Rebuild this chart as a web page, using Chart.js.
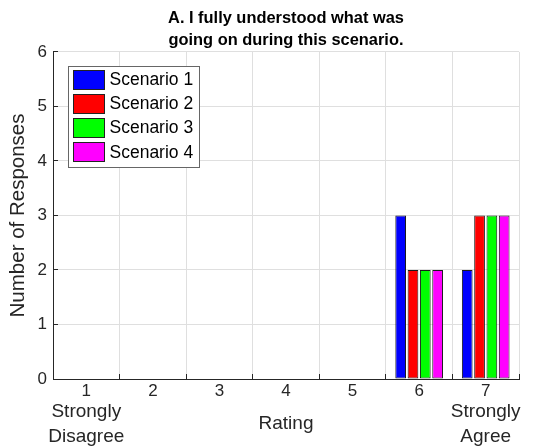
<!DOCTYPE html>
<html><head><meta charset="utf-8">
<script src="https://cdn.jsdelivr.net/npm/chart.js@4/dist/chart.umd.min.js"></script>
<style>html,body{margin:0;padding:0;background:#fff}#wrap{width:544px;height:446px}</style>
</head><body><div id="wrap"><canvas id="c" width="544" height="446"></canvas></div>
<script>
// ---- data ----
const categories = ['1', '2', '3', '4', '5', '6', '7'];
const categoryNotes = [['Strongly', 'Disagree'], '', '', '', '', '', ['Strongly', 'Agree']];
const seriesNames = ['Scenario 1', 'Scenario 2', 'Scenario 3', 'Scenario 4'];
const scenario1 = [0, 0, 0, 0, 0, 3, 2];
const scenario2 = [0, 0, 0, 0, 0, 2, 3];
const scenario3 = [0, 0, 0, 0, 0, 2, 3];
const scenario4 = [0, 0, 0, 0, 0, 2, 3];
const seriesColors = ['#0000ff', '#ff0000', '#00ff00', '#ff00ff'];
const yMin = 0, yMax = 6, yStep = 1;
const titleLines = ['A. I fully understood what was', 'going on during this scenario.'];
const xTitle = 'Rating';
const yTitle = 'Number of Responses';

const FONT = "'Liberation Sans', Arial, Helvetica, sans-serif";
Chart.defaults.font.family = FONT;
const AXIS = '#262626';
const GRID = '#dfdfdf';

const seriesValues = [scenario1, scenario2, scenario3, scenario4];

const insideLegend = {
  id: 'insideLegend',
  afterDatasetsDraw(chart) {
    const { ctx, chartArea: a } = chart;
    const x0 = Math.round(a.left + 15) + 0.5, y0 = Math.round(a.top + 14) + 0.5;
    const w = 131, h = 101, pitch = 24.3;
    ctx.save();
    ctx.fillStyle = '#fff';
    ctx.fillRect(x0, y0, w, h);
    ctx.strokeStyle = '#666';
    ctx.lineWidth = 1;
    ctx.strokeRect(x0, y0, w, h);
    ctx.font = '17.5px ' + FONT;
    ctx.textBaseline = 'middle';
    ctx.textAlign = 'left';
    chart.data.datasets.forEach((ds, i) => {
      const cy = y0 + 12.5 + i * pitch;
      const sy = Math.round(cy - 9.5) + 0.5;
      ctx.fillStyle = ds.backgroundColor;
      ctx.fillRect(x0 + 5, sy, 31, 19);
      ctx.strokeStyle = '#222';
      ctx.strokeRect(x0 + 5, sy, 31, 19);
      ctx.fillStyle = '#000';
      ctx.fillText(ds.label, x0 + 41, cy + 1);
    });
    ctx.restore();
  }
};

new Chart(document.getElementById('c'), {
  type: 'bar',
  data: {
    labels: categories,
    datasets: seriesNames.map((n, i) => ({
      label: n,
      data: seriesValues[i],
      backgroundColor: seriesColors[i],
      borderColor: '#1a1a1a',
      borderWidth: 1,
      borderSkipped: false,
      barPercentage: 0.87,
      categoryPercentage: 0.74,
      xAxisID: 'x',
      yAxisID: 'y'
    }))
  },
  options: {
    responsive: false,
    animation: false,
    layout: { padding: { left: 0, right: 25, top: 0, bottom: 0 } },
    plugins: {
      legend: { display: false },
      tooltip: { enabled: false },
      title: {
        display: true,
        text: titleLines,
        fullSize: false,
        color: '#000',
        font: { size: 16.4, weight: 'bold', lineHeight: 1.34 },
        padding: { top: 7.5, bottom: 0.5 }
      }
    },
    scales: {
      x: {
        type: 'category',
        position: 'bottom',
        weight: 0,
        grid: { offset: true, color: GRID, tickColor: AXIS, tickLength: -5, drawTicks: true },
        border: { color: AXIS, width: 1 },
        ticks: { color: AXIS, font: { size: 17, lineHeight: 1.2 }, padding: 7, maxRotation: 0, autoSkip: false },
        title: { display: false },
        afterFit(s) { s.height = 18; }
      },
      x2: {
        type: 'category',
        position: 'bottom',
        weight: 1,
        labels: categoryNotes,
        offset: true,
        grid: { display: false, drawTicks: false },
        border: { display: false },
        ticks: { color: AXIS, font: { size: 19, lineHeight: 1.33 }, padding: 2, maxRotation: 0, autoSkip: false },
        title: { display: true, text: xTitle, color: AXIS, font: { size: 19 }, padding: { top: 0, bottom: 11 } },
        afterFit(s) { s.height = 49; }
      },
      y: {
        min: yMin, max: yMax,
        grid: { color: GRID, tickColor: AXIS, tickLength: -5, drawTicks: true },
        border: { color: AXIS, width: 1 },
        ticks: { stepSize: yStep, color: AXIS, font: { size: 17 }, padding: 11 },
        title: { display: true, text: yTitle, color: AXIS, font: { size: 20.5 }, padding: { top: 6.5, bottom: 0 } },
        afterFit(s) { s.width = 53; }
      }
    }
  },
  plugins: [insideLegend]
});
</script>
</body></html>
